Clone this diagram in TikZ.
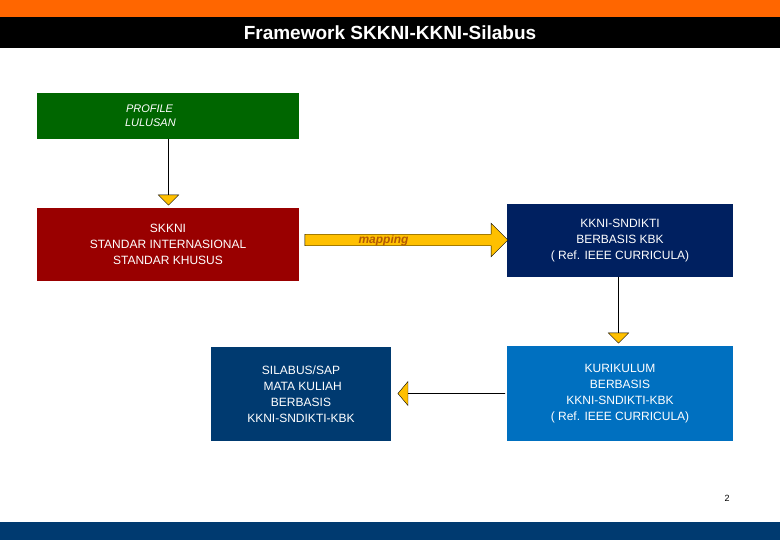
\documentclass[tikz,border=0pt]{standalone}
\usepackage{fontspec}
\setmainfont{Liberation Sans}
\usetikzlibrary{shapes,shapes.arrows,positioning,calc}
\definecolor{orng}{HTML}{FF6600}
\definecolor{grn}{HTML}{006600}
\definecolor{drd}{HTML}{990000}
\definecolor{nvy}{HTML}{002060}
\definecolor{mbl}{HTML}{0070C0}
\definecolor{dbl}{HTML}{003A70}
\definecolor{arr}{HTML}{FFC000}
\definecolor{brn}{HTML}{B35900}
\begin{document}
\begin{tikzpicture}[
            x=1pt,y=-1pt,
            box/.style ={
                rectangle,
                white,
                inner sep=0pt,
                align=center,
                font=\fontsize{12}{16}\selectfont
            },
            blk/.style ={
                single arrow,
                fill=arr,
                draw=black,
                inner sep=0pt,
                single arrow head extend=10pt,
                single arrow tip angle=90
            }
            ]
            \useasboundingbox (0,0) rectangle (780,540);
            \fill[orng] (0,0) rectangle (780,17);
            \fill[black] (0,17) rectangle (780,48);
            \node[white,font=\bfseries\fontsize{19}{22}\selectfont] (title) at (390,33) {Framework SKKNI-KKNI-Silabus};
            \fill[dbl] (0,522) rectangle (780,540);

            \node[box,fill=grn,minimum width=262pt,minimum height=46pt,font=\itshape\fontsize{11}{14}\selectfont,text width=200pt,align=left] (profile) at (168,116) {\hspace*{58pt}PROFILE\\\hspace*{57pt}LULUSAN};
            \node[box,fill=drd,minimum width=262pt,minimum height=73pt] (skkni) at (168,244.5) {SKKNI\\STANDAR INTERNASIONAL\\STANDAR KHUSUS};
            \node[box,fill=nvy,minimum width=226pt,minimum height=73pt] (kkni) at (620,240.5) {KKNI-SNDIKTI\\BERBASIS KBK\\( Ref. IEEE CURRICULA)};
            \node[box,fill=mbl,minimum width=226pt,minimum height=95pt] (kurikulum) at (620,393.5) {KURIKULUM\\BERBASIS\\KKNI-SNDIKTI-KBK\\( Ref. IEEE CURRICULA)};
            \node[box,fill=dbl,minimum width=180pt,minimum height=94pt] (silabus) at (301,394) {SILABUS/SAP\\\ MATA KULIAH\\BERBASIS\\KKNI-SNDIKTI-KBK};

            %% arrows between the blocks
            \node[blk,rotate=-90,minimum height=66pt,minimum width=18pt] (down1) at (168.5,172) {};
            \node[blk,minimum height=203pt,minimum width=22pt,single arrow head extend=11pt,font=\bfseries\itshape\fontsize{12}{14}\selectfont,text=brn] (map) at (403.5,240) {\hspace*{-40pt}mapping};
            \node[blk,rotate=-90,minimum height=66pt,minimum width=18pt] (down2) at (618.5,310) {};
            \node[blk,shape border rotate=180,minimum height=107pt,minimum width=24pt,single arrow head extend=11pt,single arrow tip angle=100] (left) at (451.5,393.5) {};

            \node[font=\fontsize{9}{10}\selectfont] (page) at (727,498) {2};
        \end{tikzpicture}
\end{document}
